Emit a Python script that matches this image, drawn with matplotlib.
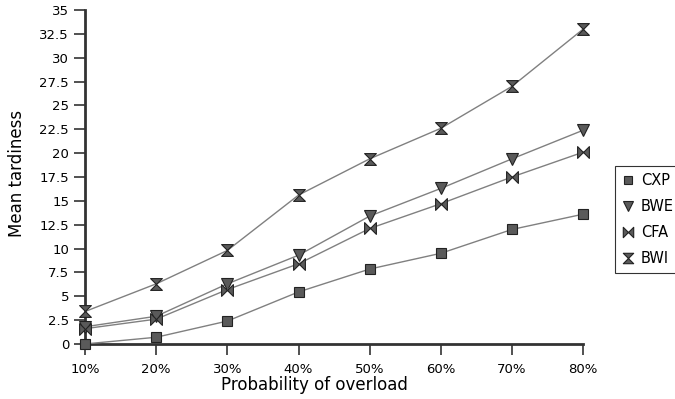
import matplotlib

matplotlib.use("Agg")
import matplotlib.pyplot as plt
from matplotlib.lines import Line2D
from matplotlib.path import Path
import numpy as np

# data
loads = ["10%", "20%", "30%", "40%", "50%", "60%", "70%", "80%"]
cxp = [0.0, 0.7, 2.4, 5.45, 7.85, 9.5, 12.0, 13.6]
bwe = [1.8, 2.9, 6.3, 9.3, 13.4, 16.3, 19.4, 22.4]
cfa = [1.6, 2.6, 5.7, 8.4, 12.1, 14.7, 17.5, 20.1]
bwi = [3.4, 6.3, 9.8, 15.6, 19.4, 22.6, 27.0, 33.0]
series_names = ["CXP", "BWE", "CFA", "BWI"]
yticks = [0, 2.5, 5, 7.5, 10, 12.5, 15, 17.5, 20, 22.5, 25, 27.5, 30, 32.5, 35]

FACE = "#5a5a5a"
LINE = "#808080"

bowtie = Path([(-1, -1), (1, 1), (1, -1), (-1, 1), (-1, -1)],
              [Path.MOVETO, Path.LINETO, Path.LINETO, Path.LINETO, Path.CLOSEPOLY])
hourglass = Path([(-1, 1), (1, 1), (-1, -1), (1, -1), (-1, 1)],
                 [Path.MOVETO, Path.LINETO, Path.LINETO, Path.LINETO, Path.CLOSEPOLY])
markers = ["s", "v", bowtie, hourglass]
sizes = [6.5, 8, 8.5, 8.5]

fig = plt.figure(figsize=(6.75, 3.99), dpi=100)
ax = fig.add_axes([0.126, 0.138, 0.738, 0.837])

x = np.arange(len(loads))
handles = []
for vals, name, mk, ms in zip([cxp, bwe, cfa, bwi], series_names, markers, sizes):
    ax.plot(x, vals, color=LINE, linewidth=1.0, marker=mk, markersize=ms,
            markerfacecolor=FACE, markeredgecolor="#222222", markeredgewidth=0.8,
            clip_on=False, zorder=3)
    handles.append(Line2D([], [], linestyle="none", marker=mk, markersize=ms - 1,
                          markerfacecolor=FACE, markeredgecolor="#222222",
                          markeredgewidth=0.8, label=name))

ax.set_xlim(0, len(loads) - 1)
ax.set_ylim(0, 35)
ax.set_xticks(x)
ax.set_xticklabels(loads)
ax.set_yticks(yticks)
ax.set_yticklabels([f"{t:g}" for t in yticks])
ax.tick_params(axis="both", labelsize=9.5, direction="out", length=8,
               width=1.2, color="#333333")
ax.tick_params(axis="x", pad=6)
for side in ("top", "right"):
    ax.spines[side].set_visible(False)
for side in ("left", "bottom"):
    ax.spines[side].set_color("#333333")
    ax.spines[side].set_linewidth(2)

ax.set_xlabel("Probability of overload", fontsize=12)
ax.set_ylabel("Mean tardiness", fontsize=12)
ax.xaxis.set_label_coords(0.46, -0.097)
ax.yaxis.set_label_coords(-0.118, 0.51)

leg = fig.legend(handles=handles, loc="center left",
                 bbox_to_anchor=(0.9, 0.45), fontsize=10.5, frameon=True,
                 fancybox=False, handlelength=0.8, handletextpad=0.5,
                 labelspacing=0.75, borderpad=0.5, edgecolor="black")
leg.get_frame().set_linewidth(0.8)

fig.savefig("out.png", dpi=100)
